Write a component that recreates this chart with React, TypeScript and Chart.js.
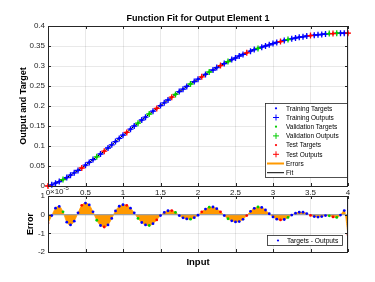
import React, { useEffect, useRef } from "react";
import { Chart, registerables } from "chart.js";

Chart.register(...registerables);

// ---------------- data ----------------
const inputs = [
  0, 0.05, 0.1, 0.15, 0.2, 0.25, 0.3, 0.35, 0.4, 0.45,
  0.5, 0.55, 0.6, 0.65, 0.7, 0.75, 0.8, 0.85, 0.9, 0.95,
  1, 1.05, 1.1, 1.15, 1.2, 1.25, 1.3, 1.35, 1.4, 1.45,
  1.5, 1.55, 1.6, 1.65, 1.7, 1.75, 1.8, 1.85, 1.9, 1.95,
  2, 2.05, 2.1, 2.15, 2.2, 2.25, 2.3, 2.35, 2.4, 2.45,
  2.5, 2.55, 2.6, 2.65, 2.7, 2.75, 2.8, 2.85, 2.9, 2.95,
  3, 3.05, 3.1, 3.15, 3.2, 3.25, 3.3, 3.35, 3.4, 3.45,
  3.5, 3.55, 3.6, 3.65, 3.7, 3.75, 3.8, 3.85, 3.9, 3.95,
  4,
];

const targets = [
  0.000, 0.003, 0.007, 0.011, 0.016, 0.021, 0.027, 0.033, 0.039, 0.045,
  0.052, 0.059, 0.066, 0.073, 0.080, 0.087, 0.095, 0.103, 0.111, 0.119,
  0.127, 0.134, 0.142, 0.150, 0.157, 0.165, 0.172, 0.180, 0.187, 0.194,
  0.201, 0.208, 0.215, 0.222, 0.229, 0.236, 0.242, 0.249, 0.255, 0.261,
  0.267, 0.273, 0.279, 0.285, 0.290, 0.296, 0.301, 0.306, 0.311, 0.316,
  0.320, 0.325, 0.329, 0.333, 0.337, 0.341, 0.344, 0.347, 0.350, 0.353,
  0.356, 0.359, 0.361, 0.364, 0.366, 0.368, 0.370, 0.372, 0.373, 0.375,
  0.376, 0.377, 0.378, 0.379, 0.380, 0.381, 0.381, 0.382, 0.382, 0.382,
  0.382,
];

// Targets - Outputs, in units of 1e-5
const errorsE5 = [
  -0.45, -0.05, 0.35, 0.44, 0.15, -0.40, -0.55, -0.35, 0.10, 0.50,
  0.62, 0.52, 0.15, -0.30, -0.58, -0.66, -0.55, -0.20, 0.20, 0.45,
  0.53, 0.50, 0.35, 0.10, -0.20, -0.42, -0.55, -0.58, -0.48, -0.28,
  -0.05, 0.12, 0.21, 0.22, 0.12, -0.05, -0.17, -0.23, -0.24, -0.16,
  -0.03, 0.15, 0.30, 0.40, 0.41, 0.32, 0.15, -0.05, -0.22, -0.33,
  -0.39, -0.37, -0.25, -0.05, 0.18, 0.34, 0.41, 0.39, 0.25, 0.05,
  -0.12, -0.24, -0.28, -0.26, -0.15, -0.02, 0.08, 0.13, 0.13, 0.06,
  -0.04, -0.10, -0.13, -0.10, -0.05, -0.06, -0.12, -0.15, -0.02, 0.22,
  -1.08,
];

const validationIdx = [4, 13, 24, 27, 34, 38, 43, 48, 56, 64, 75, 77];
const testIdx = [0, 9, 15, 21, 29, 33, 41, 46, 53, 62, 70, 76, 80];

const xTicks = [0, 0.5, 1, 1.5, 2, 2.5, 3, 3.5, 4];
const yTicks = [0, 0.05, 0.1, 0.15, 0.2, 0.25, 0.3, 0.35, 0.4];
const errTicks = [-2, -1, 0, 1];

const titleText = "Function Fit for Output Element 1";
const yTitleText = "Output and Target";
const errTitleText = "Error";
const xTitleText = "Input";
const legendLabels = [
  "Training Targets",
  "Training Outputs",
  "Validation Targets",
  "Validation Outputs",
  "Test Targets",
  "Test Outputs",
  "Errors",
  "Fit",
];
const errLegendLabel = "Targets - Outputs";

// ---------------- styles ----------------
const FONT = "'Liberation Sans', Arial, Helvetica, sans-serif";
const AX = "#262626";
const GRID = "rgba(38,38,38,0.10)";
const BLUE = "#0000ff";
const GREEN = "#00cc00";
const RED = "#ff0000";
const ORANGE = "#ff9900";

const setOf = (i: number) =>
  testIdx.includes(i) ? "test" : validationIdx.includes(i) ? "val" : "train";
const outputs = targets.map((t, i) => t - errorsE5[i] * 1e-5);

function pts(kind: string, vals: number[]) {
  const out: { x: number; y: number }[] = [];
  inputs.forEach((x, i) => {
    if (setOf(i) === kind) out.push({ x, y: vals[i] });
  });
  return out;
}

const fmt = (v: number) => String(+Number(v).toFixed(3));

const matlabAxes = {
  id: "matlabAxes",
  afterDatasetsDraw(chart: any) {
    const { ctx, chartArea: a, scales } = chart;
    const L = 3;
    ctx.save();
    ctx.strokeStyle = AX;
    ctx.lineWidth = 1;
    ctx.beginPath();
    scales.x.ticks.forEach((t: any) => {
      const px = Math.round(scales.x.getPixelForValue(t.value)) + 0.5;
      ctx.moveTo(px, a.bottom);
      ctx.lineTo(px, a.bottom - L);
      ctx.moveTo(px, a.top);
      ctx.lineTo(px, a.top + L);
    });
    scales.y.ticks.forEach((t: any) => {
      const py = Math.round(scales.y.getPixelForValue(t.value)) + 0.5;
      ctx.moveTo(a.left, py);
      ctx.lineTo(a.left + L, py);
      ctx.moveTo(a.right, py);
      ctx.lineTo(a.right - L, py);
    });
    ctx.stroke();
    ctx.strokeRect(Math.round(a.left) + 0.5, Math.round(a.top) + 0.5, Math.round(a.width) - 1, Math.round(a.height));
    ctx.restore();
  },
};

function drawMarker(ctx: CanvasRenderingContext2D, kind: string, color: string, x: number, y: number) {
  ctx.save();
  if (kind === "dot") {
    ctx.fillStyle = color;
    ctx.beginPath();
    ctx.arc(x, y, 1.1, 0, Math.PI * 2);
    ctx.fill();
  } else if (kind === "plus") {
    ctx.strokeStyle = color;
    ctx.lineWidth = 1;
    ctx.beginPath();
    ctx.moveTo(x - 3, y);
    ctx.lineTo(x + 3, y);
    ctx.moveTo(x, y - 3);
    ctx.lineTo(x, y + 3);
    ctx.stroke();
  } else if (kind === "thick") {
    ctx.strokeStyle = color;
    ctx.lineWidth = 2;
    ctx.beginPath();
    ctx.moveTo(x - 9, y);
    ctx.lineTo(x + 8, y);
    ctx.stroke();
  } else {
    ctx.strokeStyle = color;
    ctx.lineWidth = 1;
    ctx.beginPath();
    ctx.moveTo(x - 9, y);
    ctx.lineTo(x + 8, y);
    ctx.stroke();
  }
  ctx.restore();
}

const topDecor = {
  id: "topDecor",
  afterDraw(chart: any) {
    const { ctx, chartArea: a } = chart;
    ctx.save();
    // title
    ctx.fillStyle = "#000";
    ctx.font = `bold 9px ${FONT}`;
    ctx.textAlign = "center";
    ctx.textBaseline = "middle";
    ctx.fillText(titleText, (a.left + a.right) / 2, a.top - 7);
    // legend
    const bx = a.right - 83, by = a.top + 77, bw = 82, bh = 74;
    ctx.fillStyle = "#fff";
    ctx.fillRect(bx, by, bw, bh);
    ctx.strokeStyle = AX;
    ctx.lineWidth = 0.8;
    ctx.strokeRect(bx + 0.5, by + 0.5, bw, bh);
    const markers: [string, string][] = [
      ["dot", BLUE], ["plus", BLUE], ["dot", GREEN], ["plus", GREEN],
      ["dot", RED], ["plus", RED], ["thick", ORANGE], ["line", "#000"],
    ];
    legendLabels.forEach((lab, i) => {
      const y = by + 5.3 + i * 9.2;
      drawMarker(ctx, markers[i][0], markers[i][1], bx + 11, y);
      ctx.fillStyle = "#000";
      ctx.font = `6.5px ${FONT}`;
      ctx.textAlign = "left";
      ctx.textBaseline = "middle";
      ctx.fillText(lab, bx + 21, y + 0.5);
    });
    ctx.restore();
  },
};

const errDecor = {
  id: "errDecor",
  afterDraw(chart: any) {
    const { ctx, chartArea: a } = chart;
    ctx.save();
    // exponent label
    ctx.fillStyle = AX;
    ctx.textAlign = "left";
    ctx.textBaseline = "alphabetic";
    ctx.font = `8px ${FONT}`;
    ctx.fillText("\u00d710", a.left + 2, a.top - 2);
    const w = ctx.measureText("\u00d710").width;
    ctx.font = `6px ${FONT}`;
    ctx.fillText("-5", a.left + 2 + w, a.top - 6);
    // legend
    const bx = a.right - 81, by = a.bottom - 17, bw = 75, bh = 10;
    ctx.fillStyle = "#fff";
    ctx.fillRect(bx, by, bw, bh);
    ctx.strokeStyle = AX;
    ctx.lineWidth = 0.8;
    ctx.strokeRect(bx + 0.5, by + 0.5, bw, bh);
    drawMarker(ctx, "dot", BLUE, bx + 11, by + 5.5);
    ctx.fillStyle = "#000";
    ctx.font = `6.7px ${FONT}`;
    ctx.textBaseline = "middle";
    ctx.fillText(errLegendLabel, bx + 20, by + 6);
    ctx.restore();
  },
};

const tickFont = { family: FONT, size: 8 };

function TopChart() {
  const ref = useRef<HTMLCanvasElement>(null);
  useEffect(() => {
    const plus = (kind: string, color: string, label: string) => ({
      label,
      data: pts(kind, outputs),
      pointStyle: "cross",
      pointRadius: 3,
      borderColor: color,
      backgroundColor: color,
      borderWidth: 1.3,
      showLine: false,
      clip: false as any,
    });
    const dot = (kind: string, color: string, label: string) => ({
      label,
      data: pts(kind, targets),
      pointStyle: "circle",
      pointRadius: 1.4,
      borderWidth: 0,
      backgroundColor: color,
      borderColor: color,
      showLine: false,
      clip: false as any,
    });
    const chart = new Chart(ref.current as HTMLCanvasElement, {
      type: "scatter",
      data: {
        datasets: [
          plus("test", RED, "Test Outputs"),
          dot("test", RED, "Test Targets"),
          plus("val", GREEN, "Validation Outputs"),
          dot("val", GREEN, "Validation Targets"),
          plus("train", BLUE, "Training Outputs"),
          dot("train", BLUE, "Training Targets"),
          {
            type: "line",
            label: "Fit",
            data: inputs.map((x, i) => ({ x, y: outputs[i] })),
            borderColor: "#000",
            borderWidth: 1,
            pointRadius: 0,
            showLine: true,
            fill: false,
          } as any,
        ],
      },
      options: {
        animation: false,
        responsive: false,
        events: [],
        layout: { padding: { top: 26, left: 0, right: 27, bottom: 82 } },
        plugins: { legend: { display: false }, tooltip: { enabled: false }, title: { display: false } },
        scales: {
          x: {
            type: "linear",
            min: 0,
            max: 4,
            afterBuildTicks: (s: any) => { s.ticks = xTicks.map((v) => ({ value: v })); },
            afterFit: (s: any) => { s.height = 14; },
            grid: { color: GRID, drawTicks: false },
            border: { display: false },
            ticks: { padding: 2, font: tickFont, color: AX, maxRotation: 0, autoSkip: false, callback: (v: any) => fmt(v) },
          },
          y: {
            type: "linear",
            min: 0,
            max: 0.4,
            afterBuildTicks: (s: any) => { s.ticks = yTicks.map((v) => ({ value: v })); },
            afterFit: (s: any) => { s.width = 48; },
            grid: { color: GRID, drawTicks: false },
            border: { display: false },
            ticks: { padding: 3, font: tickFont, color: AX, autoSkip: false, callback: (v: any) => fmt(v) },
            title: {
              display: true,
              text: yTitleText,
              color: "#000",
              font: { family: FONT, size: 9, weight: "bold" },
              padding: { top: 18.6, bottom: 0 },
            },
          },
        },
      },
      plugins: [matlabAxes, topDecor],
    } as any);
    return () => chart.destroy();
  }, []);
  return <canvas ref={ref} width={375} height={282} style={{ position: "absolute", left: 0, top: 0, width: 375, height: 282 }} />;
}

function ErrorChart() {
  const ref = useRef<HTMLCanvasElement>(null);
  useEffect(() => {
    const dot = (kind: string, color: string, label: string) => ({
      label,
      data: pts(kind, errorsE5),
      pointStyle: "circle",
      pointRadius: 1.4,
      borderWidth: 0,
      backgroundColor: color,
      borderColor: color,
      showLine: false,
    });
    const chart = new Chart(ref.current as HTMLCanvasElement, {
      type: "scatter",
      data: {
        datasets: [
          dot("test", RED, "Test Targets - Outputs"),
          dot("val", GREEN, "Validation Targets - Outputs"),
          dot("train", BLUE, "Training Targets - Outputs"),
          {
            type: "line",
            label: "Zero",
            data: [{ x: xTicks[0], y: 0 }, { x: xTicks[xTicks.length - 1], y: 0 }],
            borderColor: "#a0a0a0",
            borderWidth: 1.3,
            pointRadius: 0,
            fill: false,
          } as any,
          {
            type: "line",
            label: "Errors",
            data: inputs.map((x, i) => ({ x, y: errorsE5[i] })),
            borderColor: ORANGE,
            backgroundColor: ORANGE,
            borderWidth: 0.8,
            pointRadius: 0,
            fill: "origin",
            cubicInterpolationMode: "monotone",
          } as any,
        ],
      },
      options: {
        animation: false,
        responsive: false,
        events: [],
        layout: { padding: { top: 196, left: 0, right: 27, bottom: 10 } },
        plugins: { legend: { display: false }, tooltip: { enabled: false }, title: { display: false } },
        scales: {
          x: {
            type: "linear",
            min: 0,
            max: 4,
            afterBuildTicks: (s: any) => { s.ticks = xTicks.map((v) => ({ value: v })); },
            afterFit: (s: any) => { s.height = 20; },
            grid: { color: GRID, drawTicks: false },
            border: { display: false },
            ticks: { display: false },
            title: {
              display: true,
              text: xTitleText,
              color: "#000",
              font: { family: FONT, size: 9.5, weight: "bold" },
              padding: { top: 0, bottom: 4 },
            },
          },
          y: {
            type: "linear",
            min: -2,
            max: 1,
            afterBuildTicks: (s: any) => { s.ticks = errTicks.map((v) => ({ value: v })); },
            afterFit: (s: any) => { s.width = 48; },
            grid: { color: GRID, drawTicks: false },
            border: { display: false },
            ticks: { padding: 3, font: tickFont, color: AX, autoSkip: false, callback: (v: any) => fmt(v) },
            title: {
              display: true,
              text: errTitleText,
              color: "#000",
              font: { family: FONT, size: 9, weight: "bold" },
              padding: { top: 25.6, bottom: 0 },
            },
          },
        },
      },
      plugins: [matlabAxes, errDecor],
    } as any);
    return () => chart.destroy();
  }, []);
  return <canvas ref={ref} width={375} height={282} style={{ position: "absolute", left: 0, top: 0, width: 375, height: 282 }} />;
}

export default function App() {
  return (
    <div style={{ position: "fixed", left: 0, top: 0, width: 375, height: 282, background: "#fff", overflow: "hidden" }}>
      <TopChart />
      <ErrorChart />
    </div>
  );
}
